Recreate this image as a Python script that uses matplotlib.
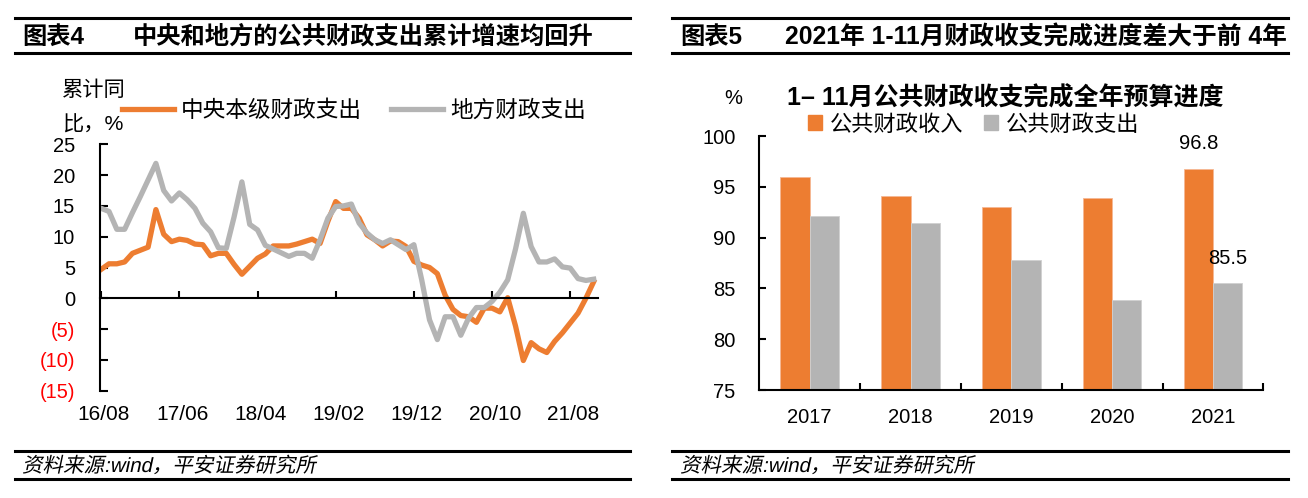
import numpy as np
import pandas as pd
import matplotlib
matplotlib.use('Agg')
import matplotlib.pyplot as plt
from matplotlib.lines import Line2D
from matplotlib.patches import Patch, PathPatch
from matplotlib.textpath import TextPath
from matplotlib.font_manager import FontProperties
from matplotlib.transforms import Affine2D

plt.rcParams['font.family'] = ['Liberation Sans', 'Noto Sans CJK SC']
plt.rcParams['axes.unicode_minus'] = False

# ---- data: left chart (cumulative yoy growth, %) ----
months = pd.period_range('2016-08', '2021-11', freq='M').strftime('%y/%m')
central = [4.7, 5.6, 5.6, 5.9, 7.3, 7.8, 8.3, 14.4, 10.4, 9.2,
           9.6, 9.4, 8.8, 8.7, 6.9, 7.3, 7.3, 5.5, 3.9, 5.2,
           6.5, 7.2, 8.5, 8.5, 8.5, 8.8, 9.2, 9.6, 8.9, 12.5,
           15.7, 14.6, 14.6, 13.0, 10.3, 9.5, 8.5, 9.3, 9.2, 8.4,
           6.0, 5.4, 5.0, 4.0, 0.5, -1.8, -2.8, -3.0, -3.9, -1.6,
           -1.6, -2.2, 0.1, -4.5, -10.1, -7.2, -8.2, -8.8, -7.0, -5.6,
           -4.0, -2.4, 0.0, 2.7]
local = [14.6, 14.1, 11.2, 11.2, 13.9, 16.5, 19.2, 21.9, 17.5, 15.8,
         17.1, 16.0, 14.6, 12.2, 10.8, 8.2, 8.1, 13.2, 18.9, 12.0,
         11.1, 8.6, 8.0, 7.4, 6.8, 7.3, 7.3, 6.5, 9.5, 13.0,
         14.9, 15.0, 15.3, 12.2, 10.6, 9.5, 8.9, 9.5, 8.7, 7.9,
         8.7, 3.0, -3.5, -6.7, -3.0, -3.0, -6.0, -3.2, -1.5, -1.5,
         -0.5, 1.0, 3.0, 8.0, 13.8, 8.4, 5.9, 5.9, 6.4, 5.1,
         4.9, 3.2, 2.9, 3.1]
left_yticks = [25, 20, 15, 10, 5, 0, -5, -10, -15]

# ---- data: right chart (budget completion, %) ----
years = ['2017', '2018', '2019', '2020', '2021']
revenue = [96.0, 94.1, 93.0, 93.9, 96.8]
spending = [92.1, 91.4, 87.8, 83.9, 85.5]

orange = '#ED7D31'
grey = '#B4B4B4'

W, H = 1308, 498
fig = plt.figure(figsize=(W / 100, H / 100), dpi=100)


def fx(px):
    return px / W


def fy(py):
    return 1 - py / H


def hline(x0, x1, y, lw=2.2):
    fig.add_artist(Line2D([fx(x0), fx(x1)], [fy(y), fy(y)], color='black',
                          lw=lw, transform=fig.transFigure))


# headers and footers
for x0, x1 in [(15, 630), (672, 1288)]:
    hline(x0, x1, 18)
    hline(x0, x1, 53)
    hline(x0, x1, 451)
    hline(x0, x1, 479)

fig.text(fx(22), fy(37), '图表4', fontsize=17.5, fontweight='bold', va='center')
fig.text(fx(133), fy(37), '中央和地方的公共财政支出累计增速均回升', fontsize=17.5,
         fontweight='bold', va='center')
fig.text(fx(680), fy(37), '图表5', fontsize=17.5, fontweight='bold', va='center')
fig.text(fx(785), fy(37), '2021年 1-11月财政收支完成进度差大于前 4年', fontsize=17.8,
         fontweight='bold', va='center')

# slanted footer (CJK font has no italic face)
foot_prop = FontProperties(family=['Liberation Sans', 'Noto Sans CJK SC'])
for x0 in (22, 680):
    tp = TextPath((0, 0), '资料来源:wind，平安证券研究所', size=20.5, prop=foot_prop)
    tr = Affine2D().skew_deg(12, 0).translate(x0, H - 472)
    fig.add_artist(PathPatch(tp, transform=tr, facecolor='black', lw=0))

# ---- left chart ----
ax = fig.add_axes([fx(100), fy(390.7), fx(498), fy(144.3) - fy(390.7)])
x = np.arange(len(months))
ax.plot(x, central, color=orange, lw=3.8, solid_joinstyle='round',
        label='中央本级财政支出')
ax.plot(x, local, color=grey, lw=3.8, solid_joinstyle='round',
        label='地方财政支出')
ax.set_xlim(-0.15, 63.55)
ax.set_ylim(-15, 25)
for s in ['top', 'right']:
    ax.spines[s].set_visible(False)
ax.spines['left'].set_linewidth(1.5)
ax.spines['bottom'].set_linewidth(1.5)
ax.spines['bottom'].set_position(('data', 0))
ax.set_yticks(left_yticks)
ax.set_yticklabels([f'({-v})' if v < 0 else str(v) for v in left_yticks])
for lab, v in zip(ax.get_yticklabels(), left_yticks):
    if v < 0:
        lab.set_color('red')
ax.tick_params(axis='y', direction='in', length=6, width=1.5, labelsize=14.5,
               pad=18)
xt = x[::10]
ax.set_xticks(xt)
ax.tick_params(axis='x', direction='in', length=5, width=1.5, labelbottom=False)
sec = ax.secondary_xaxis(0)
sec.set_xticks(xt + 0.35, [months[i] for i in xt])
sec.tick_params(length=0, pad=10, labelsize=15)
sec.spines['bottom'].set_visible(False)

ax.legend(loc='center left', bbox_to_anchor=(fx(122), fy(110)),
          bbox_transform=fig.transFigure, ncol=2, frameon=False, fontsize=16.3,
          handlelength=2.3, handletextpad=0.3, columnspacing=1.3,
          borderpad=0, borderaxespad=0)
fig.text(fx(62), fy(90), '累计同', fontsize=15.3, va='center')
fig.text(fx(62), fy(125), '比，%', fontsize=15.3, va='center')

# ---- right chart ----
ax2 = fig.add_axes([fx(759.3), fy(390), fx(504), fy(136) - fy(390)])
pos = np.arange(len(years))
bw = 0.29
ax2.bar(pos - bw / 2, revenue, bw, color=orange, edgecolor='#F5B894',
        lw=0.6, label='公共财政收入')
ax2.bar(pos + bw / 2, spending, bw, color=grey, edgecolor='#D0D0D0',
        lw=0.6, label='公共财政支出')
ax2.set_xlim(-0.5, 4.5)
ax2.set_ylim(75, 100)
ax2.set_yticks(range(75, 101, 5))
for s in ['top', 'right']:
    ax2.spines[s].set_visible(False)
ax2.spines['left'].set_linewidth(1.5)
ax2.spines['bottom'].set_linewidth(1.5)
ax2.tick_params(axis='y', direction='in', length=5, width=1.5, labelsize=14.5,
                pad=17)
ax2.set_xticks(pos, years)
ax2.set_xticks(list(pos + 0.5), minor=True)
ax2.tick_params(axis='x', which='major', length=0, labelsize=14.5, pad=13)
ax2.tick_params(axis='x', which='minor', direction='in', length=5, width=1.5)
ax2.annotate(f'{revenue[-1]:.1f}', (pos[-1] - bw / 2, revenue[-1]),
             xytext=(0, 18), textcoords='offset points', ha='center',
             va='center', fontsize=14.5)
ax2.annotate(f'{spending[-1]:.1f}', (pos[-1] + bw / 2, spending[-1]),
             xytext=(0, 18), textcoords='offset points', ha='center',
             va='center', fontsize=14.5)
fig.text(fx(1005), fy(98), '1– 11月公共财政收支完成全年预算进度', fontsize=18,
         fontweight='bold', ha='center', va='center')
fig.text(fx(733), fy(98), '%', fontsize=14.5, ha='center', va='center')
handles = [Patch(color=orange), Patch(color=grey)]
ax2.legend(handles, ['公共财政收入', '公共财政支出'], loc='center left',
           bbox_to_anchor=(fx(808), fy(125)), bbox_transform=fig.transFigure,
           ncol=2, frameon=False, fontsize=16, handlelength=0.65,
           handleheight=0.65, handletextpad=0.35, columnspacing=0.9,
           borderpad=0, borderaxespad=0)

fig.savefig('out.png', dpi=100)
